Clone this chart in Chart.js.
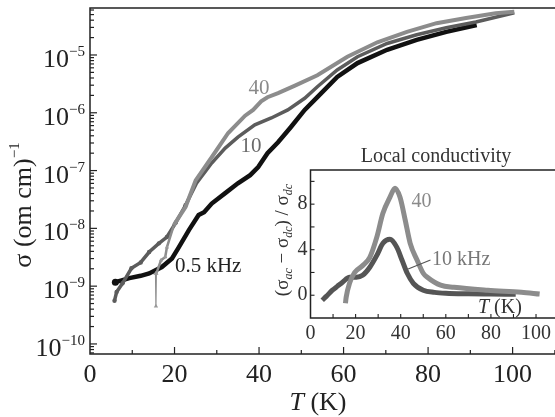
<!DOCTYPE html>
<html>
<head>
<meta charset="utf-8">
<script src="https://cdn.jsdelivr.net/npm/chart.js@4.4.0/dist/chart.umd.min.js"></script>
<style>
html, body { margin: 0; padding: 0; background: #fff; overflow: hidden; }
#wrap { position: relative; width: 555px; height: 417px; overflow: hidden; }
#main { position: absolute; left: 0; top: 0; }
#inset { position: absolute; left: 240px; top: 130px; }
</style>
</head>
<body>
<div id="wrap">
  <canvas id="main" width="580" height="417"></canvas>
  <canvas id="inset" width="340" height="230"></canvas>
</div>
<script>
// main panel: sigma (om cm)^-1 vs T (K)
const temp05 = [6.0, 7.5, 9.3, 12, 14, 17, 19.4, 21, 23.4, 25.7, 27, 28.8, 32, 35, 37.9, 39.8, 42, 44.5, 47.5, 50.8, 53.8, 58.5, 63.3, 70.3, 77.3, 84.3, 91.5];
const sigma05 = [1.17e-9, 1.26e-9, 1.38e-9, 1.51e-9, 1.66e-9, 2.14e-9, 3.02e-9, 4.68e-9, 9.33e-9, 1.70e-8, 1.9e-8, 2.69e-8, 4.07e-8, 6.03e-8, 8.32e-8, 1.15e-7, 2.0e-7, 3.09e-7, 5.62e-7, 1.12e-6, 1.86e-6, 4.17e-6, 7.24e-6, 1.23e-5, 1.82e-5, 2.51e-5, 3.31e-5];

const temp10 = [5.8, 6.3, 7.7, 9.8, 12, 14, 16.3, 18.2, 20.3, 22.6, 25.2, 28.8, 32, 35, 39, 42.9, 46.8, 50.8, 53.8, 58.5, 63.3, 70.3, 77.3, 84.3, 91.3, 100.4];
const sigma10 = [5.6e-10, 7.9e-10, 1.12e-9, 2.04e-9, 2.57e-9, 3.89e-9, 5.5e-9, 7.08e-9, 1.26e-8, 2.51e-8, 6.03e-8, 1.35e-7, 2.45e-7, 3.8e-7, 6.17e-7, 8.13e-7, 1.12e-6, 1.78e-6, 2.82e-6, 5.5e-6, 9.33e-6, 1.58e-5, 2.24e-5, 2.95e-5, 3.72e-5, 5.37e-5];

const temp40 = [15.5, 15.6, 15.7, 16.8, 17.8, 18.2, 19.8, 21, 22.6, 25, 28.8, 32.7, 36.7, 38.6, 40.5, 42, 44.5, 48.5, 53.8, 60.9, 68, 75, 82, 89, 96, 100.4];
const sigma40 = [1.66e-9, 4.5e-10, 1.66e-9, 2.8e-9, 3.2e-9, 4.7e-9, 1.12e-8, 1.55e-8, 2.34e-8, 6.76e-8, 1.7e-7, 4.47e-7, 8.9e-7, 1.12e-6, 1.58e-6, 1.86e-6, 2.19e-6, 2.95e-6, 4.47e-6, 9.33e-6, 1.66e-5, 2.51e-5, 3.55e-5, 4.37e-5, 5.25e-5, 5.62e-5];

// inset: (sigma_ac - sigma_dc) / sigma_dc vs T (K)
const insetTemp10 = [5.2, 7, 9.7, 12, 14.2, 17.3, 20.4, 23.1, 26.3, 29.4, 32.1, 35.2, 38.3, 40.6, 42.9, 45.6, 50, 55, 60, 70, 80, 91];
const insetRatio10 = [-0.44, -0.1, 0.44, 0.8, 1.14, 1.58, 1.58, 1.75, 2.46, 3.5, 4.56, 4.91, 4.2, 3.07, 1.93, 1.05, 0.44, 0.25, 0.17, 0.12, 0.1, 0.08];
const insetTemp40 = [15.5, 15.8, 17.3, 19.6, 23.1, 26.3, 29.4, 32.1, 35.2, 37.5, 39.7, 42, 44.2, 47.3, 50, 51.8, 57.7, 63.6, 78.6, 93.5, 101.6];
const insetRatio40 = [-0.7, -0.2, 1.05, 2.0, 2.6, 3.33, 5.1, 7.2, 8.6, 9.4, 8.6, 6.6, 4.56, 3.07, 1.93, 1.58, 0.88, 0.7, 0.44, 0.26, 0.1];

const mainTicksX = [0, 20, 40, 60, 80, 100];
const mainDecades = [-10, -9, -8, -7, -6, -5];
const insetTicksX = [0, 20, 40, 60, 80, 100];
const insetTicksY = [0, 4, 8];

const serif = '"Liberation Serif", "Times New Roman", serif';
const ink = '#222';

function pts(xs, ys) {
    return xs.map((t, i) => ({ x: t, y: ys[i] }));
}

// draws a string made of pieces: [text, fontSize, italic, baselineShift]
function drawPieces(ctx, pieces, x, y, align) {
    let total = 0;
    pieces.forEach(p => {
        ctx.font = (p[2] ? 'italic ' : '') + p[1] + 'px ' + serif;
        p.w = ctx.measureText(p[0]).width;
        total += p.w;
    });
    let cx = align === 'center' ? x - total / 2 : (align === 'right' ? x - total : x);
    ctx.textAlign = 'left';
    ctx.textBaseline = 'alphabetic';
    pieces.forEach(p => {
        ctx.font = (p[2] ? 'italic ' : '') + p[1] + 'px ' + serif;
        ctx.fillText(p[0], cx, y + (p[3] || 0));
        cx += p.w;
    });
}

const mainAxes = {
    id: 'mainAxes',
    afterDraw(chart) {
        const { ctx, chartArea: a, scales: { x, y } } = chart;
        ctx.save();
        ctx.strokeStyle = ink;
        ctx.fillStyle = ink;
        ctx.lineWidth = 1.5;
        ctx.beginPath();
        ctx.moveTo(a.right, a.top);
        ctx.lineTo(a.left, a.top);
        ctx.lineTo(a.left, a.bottom);
        ctx.lineTo(a.right, a.bottom);
        ctx.stroke();

        // x ticks, inward
        ctx.lineWidth = 1.2;
        for (let t = 10; t <= 110; t += 10) {
            const px = x.getPixelForValue(t);
            const len = t % 20 === 0 ? 7 : 4;
            ctx.beginPath();
            ctx.moveTo(px, a.bottom);
            ctx.lineTo(px, a.bottom - len);
            ctx.stroke();
        }
        // y log ticks, inward
        for (let d = -11; d <= -4; d++) {
            for (let m = 1; m <= 9; m++) {
                const v = m * Math.pow(10, d);
                if (v < y.min || v > y.max) continue;
                const py = y.getPixelForValue(v);
                const len = m === 1 ? 7 : 4;
                ctx.beginPath();
                ctx.moveTo(a.left, py);
                ctx.lineTo(a.left + len, py);
                ctx.stroke();
            }
        }

        // tick labels
        ctx.font = '26px ' + serif;
        ctx.textAlign = 'center';
        ctx.textBaseline = 'alphabetic';
        mainTicksX.forEach(t => {
            ctx.fillText(String(t), x.getPixelForValue(t), a.bottom + 28);
        });
        mainDecades.forEach(d => {
            const py = y.getPixelForValue(Math.pow(10, d));
            drawPieces(ctx, [['10', 26, false, 0], ['\u2212' + Math.abs(d), 15, false, -11]], 85, py + 12, 'right');
        });

        // axis titles
        drawPieces(ctx, [['T', 26, true, 0], [' (K)', 26, false, 0]], 318, 410, 'center');
        ctx.save();
        ctx.translate(31, 205);
        ctx.rotate(-Math.PI / 2);
        drawPieces(ctx, [['\u03c3 (om cm)', 26, false, 0], ['\u22121', 15, false, -12]], 0, 0, 'center');
        ctx.restore();

        // curve labels
        ctx.font = '21px ' + serif;
        ctx.textBaseline = 'middle';
        ctx.textAlign = 'center';
        ctx.fillStyle = '#8a8a8a';
        ctx.fillText('40', x.getPixelForValue(40.0), y.getPixelForValue(2.68e-6));
        ctx.fillStyle = '#6a6a6a';
        ctx.fillText('10', x.getPixelForValue(38.1), y.getPixelForValue(2.57e-7));
        ctx.fillStyle = ink;
        ctx.textAlign = 'left';
        ctx.fillText('0.5 kHz', x.getPixelForValue(20.1), y.getPixelForValue(2.15e-9));
        ctx.restore();
    }
};

new Chart(document.getElementById('main'), {
    type: 'line',
    data: {
        datasets: [
            {
                label: '40 kHz',
                data: pts(temp40, sigma40),
                borderColor: '#8c8c8c',
                backgroundColor: '#999',
                borderWidth: 4,
                pointStyle: 'triangle',
                pointBorderWidth: 0,
                pointRadius: c => (c.raw && c.raw.x < 19 ? 2.5 : 0),
                segment: {
                    // the dip at 15.6 K is a thin spike
                    borderWidth: s => (s.p0DataIndex < 2 ? 1.2 : (s.p0DataIndex < 6 ? 2.5 : 4))
                },
                tension: 0
            },
            {
                label: '10 kHz',
                data: pts(temp10, sigma10),
                borderColor: '#5c5c5c',
                backgroundColor: '#5c5c5c',
                borderWidth: 3.5,
                pointBorderWidth: 0,
                pointRadius: c => (c.raw && c.raw.x < 24 ? 2.2 : 0),
                tension: 0
            },
            {
                label: '0.5 kHz',
                data: pts(temp05, sigma05),
                borderColor: '#111',
                backgroundColor: '#111',
                borderWidth: 4.5,
                pointBorderWidth: 0,
                pointRadius: c => (c.dataIndex === 0 ? 3.5 : 0),
                tension: 0
            }
        ]
    },
    options: {
        responsive: false,
        animation: false,
        layout: { padding: { left: 90, top: 8, right: 0, bottom: 63 } },
        plugins: { legend: { display: false }, tooltip: { enabled: false } },
        scales: {
            x: { type: 'linear', min: 0, max: 115, display: false },
            y: { type: 'logarithmic', min: 6.7e-11, max: 6.5e-5, display: false }
        }
    },
    plugins: [mainAxes]
});

const insetAxes = {
    id: 'insetAxes',
    beforeDraw(chart) {
        const { ctx, chartArea: a } = chart;
        ctx.save();
        ctx.fillStyle = '#fff';
        ctx.fillRect(a.left, a.top, a.right - a.left, a.bottom - a.top);
        ctx.restore();
    },
    afterDraw(chart) {
        const { ctx, chartArea: a, scales: { x, y } } = chart;
        ctx.save();
        ctx.strokeStyle = ink;
        ctx.fillStyle = ink;
        ctx.lineWidth = 1.5;
        ctx.beginPath();
        ctx.moveTo(a.right, a.top);
        ctx.lineTo(a.left, a.top);
        ctx.lineTo(a.left, a.bottom);
        ctx.lineTo(a.right, a.bottom);
        ctx.stroke();

        ctx.lineWidth = 1.1;
        for (let t = 10; t <= 110; t += 10) {
            const px = x.getPixelForValue(t);
            ctx.beginPath();
            ctx.moveTo(px, a.bottom);
            ctx.lineTo(px, a.bottom - 4);
            ctx.stroke();
        }
        for (let v = 0; v <= 10; v += 2) {
            const py = y.getPixelForValue(v);
            ctx.beginPath();
            ctx.moveTo(a.left, py);
            ctx.lineTo(a.left + 4, py);
            ctx.stroke();
        }

        ctx.fillStyle = '#333';
        ctx.font = '20px ' + serif;
        ctx.textAlign = 'center';
        ctx.textBaseline = 'middle';
        insetTicksX.forEach(t => ctx.fillText(String(t), x.getPixelForValue(t), a.bottom + 16));
        ctx.textAlign = 'right';
        insetTicksY.forEach(v => ctx.fillText(String(v), a.left - 3, y.getPixelForValue(v)));

        ctx.textAlign = 'center';
        ctx.fillText('Local conductivity', 196, 27);

        // y title
        ctx.save();
        ctx.translate(48, 110);
        ctx.rotate(-Math.PI / 2);
        drawPieces(ctx, [
            ['(\u03c3', 19, false, 0], ['ac', 12, true, 4],
            [' \u2212 \u03c3', 19, false, 0], ['dc', 12, true, 4],
            [') / \u03c3', 19, false, 0], ['dc', 12, true, 4]
        ], 0, 0, 'center');
        ctx.restore();

        // T (K) inside
        ctx.fillStyle = '#333';
        drawPieces(ctx, [['T', 20, true, 0], [' (K)', 20, false, 0]], x.getPixelForValue(84), y.getPixelForValue(-0.96) + 7, 'center');

        // curve labels
        ctx.textBaseline = 'middle';
        ctx.textAlign = 'left';
        ctx.font = '20px ' + serif;
        ctx.fillStyle = '#8a8a8a';
        ctx.fillText('40', x.getPixelForValue(44.8), y.getPixelForValue(8.25));
        ctx.fillStyle = '#777';
        ctx.fillText('10 kHz', x.getPixelForValue(53.9), y.getPixelForValue(3.16));

        ctx.strokeStyle = '#555';
        ctx.lineWidth = 1.2;
        ctx.beginPath();
        ctx.moveTo(x.getPixelForValue(43.3), y.getPixelForValue(2.3));
        ctx.lineTo(x.getPixelForValue(53.2), y.getPixelForValue(3.1));
        ctx.stroke();
        ctx.restore();
    }
};

new Chart(document.getElementById('inset'), {
    type: 'line',
    data: {
        datasets: [
            {
                label: '40 kHz',
                data: pts(insetTemp40, insetRatio40),
                borderColor: '#8c8c8c',
                backgroundColor: '#8c8c8c',
                borderWidth: 5,
                pointRadius: 0,
                cubicInterpolationMode: 'monotone'
            },
            {
                label: '10 kHz',
                data: pts(insetTemp10, insetRatio10),
                borderColor: '#555',
                backgroundColor: '#555',
                borderWidth: 5,
                pointRadius: 0,
                cubicInterpolationMode: 'monotone'
            }
        ]
    },
    options: {
        responsive: false,
        animation: false,
        layout: { padding: { left: 70.5, top: 40, right: 0, bottom: 42 } },
        plugins: { legend: { display: false }, tooltip: { enabled: false } },
        scales: {
            x: { type: 'linear', min: 0, max: 119.5, display: false },
            y: { type: 'linear', min: -2, max: 11, display: false }
        }
    },
    plugins: [insetAxes]
});
</script>
</body>
</html>
